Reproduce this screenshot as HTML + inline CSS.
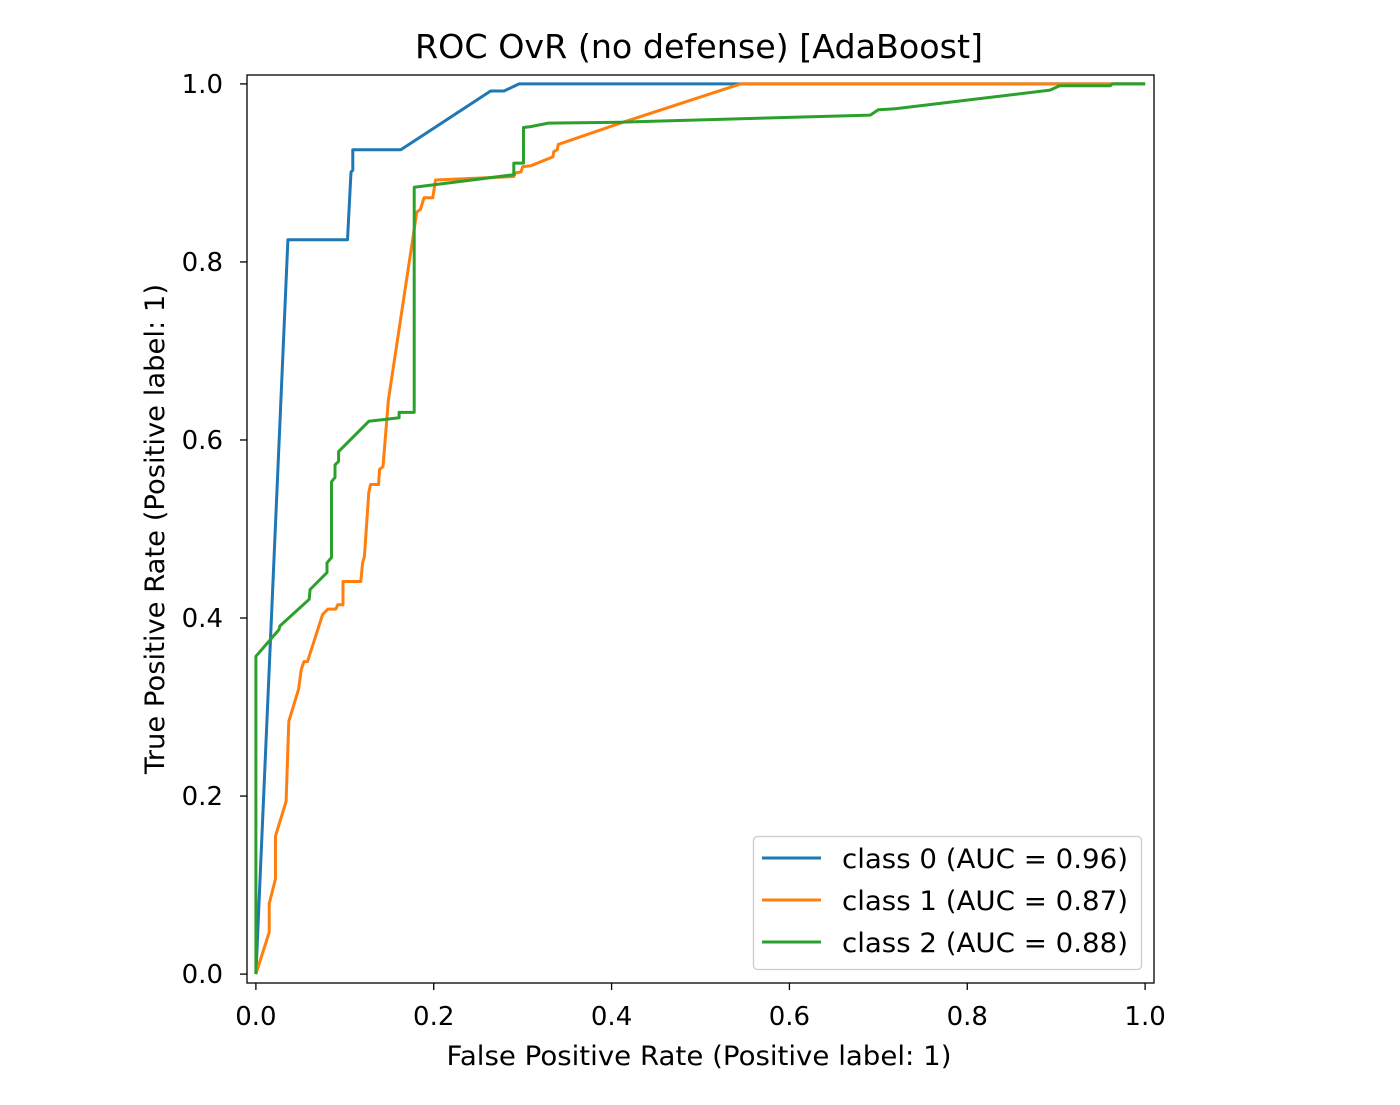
<!DOCTYPE html>
<html><head><meta charset="utf-8"><style>
html,body{margin:0;padding:0;background:#fff;}
svg text{font-family:"DejaVu Sans","Liberation Sans",sans-serif;fill:#000;}
</style></head><body>
<svg id="chart" width="1400" height="1100" xmlns="http://www.w3.org/2000/svg">
<rect width="1400" height="1100" fill="#fff"/>
<text x="699" y="58" font-size="33" text-anchor="middle" textLength="568" lengthAdjust="spacingAndGlyphs">ROC OvR (no defense) [AdaBoost]</text>
<g id="ticks"></g>
<g id="series"></g>
<rect x="247" y="75" width="907" height="908" fill="none" stroke="#000" stroke-width="1.3"/>
<text x="699" y="1065" font-size="27" text-anchor="middle" textLength="505" lengthAdjust="spacingAndGlyphs">False Positive Rate (Positive label: 1)</text>
<text transform="translate(164,529) rotate(-90)" font-size="27" text-anchor="middle" textLength="490" lengthAdjust="spacingAndGlyphs">True Positive Rate (Positive label: 1)</text>
<g>
<rect x="753.5" y="836.5" width="388" height="133" rx="4" fill="#fff" fill-opacity="0.8" stroke="#ccc" stroke-width="1.3"/>
<line x1="762" y1="858" x2="821" y2="858" stroke="#1f77b4" stroke-width="3"/>
<text x="842" y="868" font-size="27" textLength="286" lengthAdjust="spacingAndGlyphs">class 0 (AUC = 0.96)</text>
<line x1="762" y1="900" x2="821" y2="900" stroke="#ff7f0e" stroke-width="3"/>
<text x="842" y="910" font-size="27" textLength="286" lengthAdjust="spacingAndGlyphs">class 1 (AUC = 0.87)</text>
<line x1="762" y1="942" x2="821" y2="942" stroke="#2ca02c" stroke-width="3"/>
<text x="842" y="952" font-size="27" textLength="286" lengthAdjust="spacingAndGlyphs">class 2 (AUC = 0.88)</text>
</g>
</svg>
<script>
const tickValues = [0, 0.2, 0.4, 0.6, 0.8, 1.0];
const tickLabels = ["0.0", "0.2", "0.4", "0.6", "0.8", "1.0"];
const class0Fpr = [0,0.036,0.103,0.107,0.109,0.109,0.163,0.264,0.279,0.296,1];
const class0Tpr = [0,0.825,0.825,0.901,0.903,0.926,0.926,0.992,0.992,1,1];
const class1Fpr = [0,.015,.015,.022,.022,.034,.037,.048,.051,.054,.058,.075,.081,.090,.092,.098,.098,.118,.120,.122,.127,.129,.138,.139,.143,.149,.181,.185,.189,.199,.202,.290,.292,.298,.300,.309,.334,.335,.339,.340,.410,.545,1];
const class1Tpr = [0,.047,.079,.107,.155,.194,.284,.320,.342,.351,.351,.404,.410,.410,.415,.415,.441,.441,.462,.469,.541,.550,.550,.567,.570,.645,.856,.859,.872,.872,.892,.896,.900,.901,.907,.908,.918,.924,.926,.932,.956,1,1];
const class2Fpr = [0,0,.026,.027,.060,.061,.080,.080,.085,.085,.089,.089,.093,.093,.127,.161,.161,.178,.178,.290,.290,.301,.301,.309,.329,.410,.691,.700,.719,.893,.904,.961,.963,1];
const class2Tpr = [0,.357,.387,.391,.421,.432,.451,.462,.468,.553,.558,.572,.576,.587,.621,.625,.631,.631,.884,.898,.911,.911,.951,.952,.956,.957,.965,.971,.972,.993,.998,.998,1,1];

const NS = "http://www.w3.org/2000/svg";
function xs(v){ return 247 + (v + 0.01) / 1.02 * 907; }
function ys(v){ return 983 - (v + 0.01) / 1.02 * 908; }

const ticks = document.getElementById('ticks');
tickValues.forEach((v, i) => {
  const xt = document.createElementNS(NS, 'line');
  xt.setAttribute('x1', xs(v)); xt.setAttribute('x2', xs(v));
  xt.setAttribute('y1', 983); xt.setAttribute('y2', 990);
  xt.setAttribute('stroke', '#000'); xt.setAttribute('stroke-width', '1.3');
  
  
  ticks.appendChild(xt);
  const xl = document.createElementNS(NS, 'text');
  xl.setAttribute('x', xs(v)); xl.setAttribute('y', 1025);
  xl.setAttribute('font-size', '26'); xl.setAttribute('text-anchor', 'middle');
  xl.textContent = tickLabels[i];
  
  
  ticks.appendChild(xl);
  const yt = document.createElementNS(NS, 'line');
  yt.setAttribute('x1', 240); yt.setAttribute('x2', 247);
  yt.setAttribute('y1', ys(v)); yt.setAttribute('y2', ys(v));
  yt.setAttribute('stroke', '#000'); yt.setAttribute('stroke-width', '1.3');
  
  
  ticks.appendChild(yt);
  const yl = document.createElementNS(NS, 'text');
  yl.setAttribute('x', 223); yl.setAttribute('y', ys(v) + 9);
  yl.setAttribute('font-size', '26'); yl.setAttribute('text-anchor', 'end');
  yl.textContent = tickLabels[i];
  
  
  ticks.appendChild(yl);
});

const series = document.getElementById('series');
function drawCurve(fpr, tpr, color, name){
  const p = document.createElementNS(NS, 'polyline');
  p.setAttribute('points', fpr.map((f, i) => xs(f).toFixed(1) + ',' + ys(tpr[i]).toFixed(1)).join(' '));
  p.setAttribute('fill', 'none'); p.setAttribute('stroke', color);
  p.setAttribute('stroke-width', '3'); p.setAttribute('stroke-linejoin', 'round');
  
  
  series.appendChild(p);
}
drawCurve(class0Fpr, class0Tpr, '#1f77b4', 'roc-curve-class-0');
drawCurve(class1Fpr, class1Tpr, '#ff7f0e', 'roc-curve-class-1');
drawCurve(class2Fpr, class2Tpr, '#2ca02c', 'roc-curve-class-2');
</script>
</body></html>
